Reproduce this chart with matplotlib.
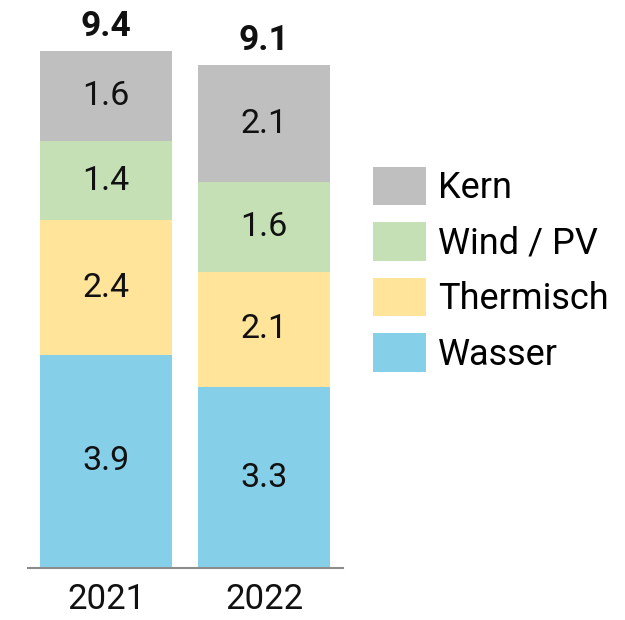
import matplotlib
matplotlib.use("Agg")
import matplotlib.pyplot as plt
from matplotlib.patches import Patch

plt.rcParams['font.family'] = ['Roboto', 'DejaVu Sans']

years = ["2021", "2022"]
series_names = ["Wasser", "Thermisch", "Wind / PV", "Kern"]
wasser = [3.87, 3.28]
thermisch = [2.44, 2.10]
wind_pv = [1.44, 1.62]
kern = [1.63, 2.12]
totals = [9.4, 9.1]
colors = ["#86CFE8", "#FFE499", "#C5E0B4", "#BFBFBF"]

fig = plt.figure(figsize=(6.25, 6.2), dpi=100)
ax = fig.add_axes([28/625, 52/620, 315/625, 551/620])

x = list(range(len(years)))
bottoms = [0.0] * len(years)
for vals, col in zip([wasser, thermisch, wind_pv, kern], colors):
    ax.bar(x, vals, width=0.835, bottom=bottoms, color=col, edgecolor='none')
    for xi, b, v in zip(x, bottoms, vals):
        ax.text(xi, b + v / 2, f"{v:.1f}", ha='center', va='center', fontsize=24.5, color='#111111')
    bottoms = [b + v for b, v in zip(bottoms, vals)]

for xi, top, t in zip(x, bottoms, totals):
    ax.annotate(f"{t:.1f}", xy=(xi, top), xytext=(0, 18), textcoords='offset points',
                ha='center', va='center', fontsize=25.5, fontweight='bold', color='#111111')

ax.set_xlim(-0.494, 1.5)
ax.set_ylim(0, 10)
ax.set_xticks(x)
ax.set_xticklabels(years, fontsize=25, color='#111111')
ax.tick_params(axis='x', length=0, pad=11)
ax.set_yticks([])
for s in ['top', 'right', 'left']:
    ax.spines[s].set_visible(False)
ax.spines['bottom'].set_color('#8C8C8C')
ax.spines['bottom'].set_linewidth(1.5)

handles = [Patch(facecolor=c, edgecolor='none', label=n) for c, n in zip(colors, series_names)][::-1]
fig.legend(handles=handles, loc='upper left', bbox_to_anchor=(373/625, 1 - 167/620),
           frameon=False, fontsize=26, handlelength=1.47, handleheight=1.25,
           labelspacing=0.45, handletextpad=0.33, borderpad=0, borderaxespad=0)

fig.savefig("out.png", dpi=100)
